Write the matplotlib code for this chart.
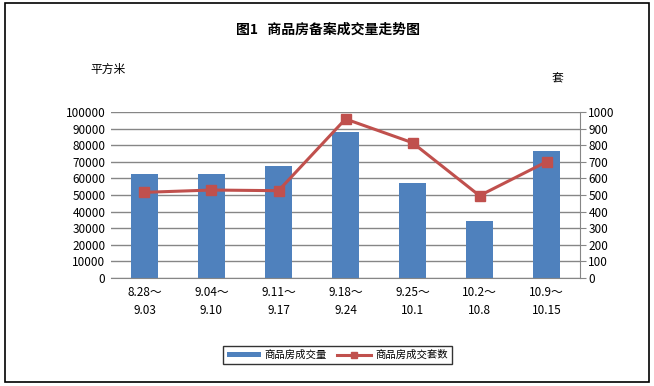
import matplotlib.pyplot as plt
import numpy as np
from matplotlib.patches import Rectangle

plt.rcParams['font.family'] = ['Noto Sans CJK SC', 'DejaVu Sans']

# data
weeks = ["8.28～\n9.03", "9.04～\n9.10", "9.11～\n9.17", "9.18～\n9.24",
         "9.25～\n10.1", "10.2～\n10.8", "10.9～\n10.15"]
area = [62600, 62600, 67500, 88000, 57200, 34300, 76500]   # 平方米
units = [516, 530, 526, 958, 815, 496, 700]                # 套

bar_color = "#4F81BD"
line_color = "#C0504D"
grid_color = "#868686"

fig = plt.figure(figsize=(6.54, 3.86), dpi=100)
ax = fig.add_axes([0.1697, 0.2798, 0.7172, 0.43])
x = np.arange(len(weeks))

ax.set_axisbelow(True)
ax.grid(axis="y", color=grid_color, linewidth=1)
bars = ax.bar(x, area, width=0.4, color=bar_color, label="商品房成交量", zorder=2)
ax.set_ylim(0, 100000)
ax.set_yticks(np.arange(0, 100001, 10000))
ax.set_xlim(-0.5, len(weeks) - 0.5)
ax.set_xticks(x)
ax.set_xticklabels(weeks, fontsize=8.5, linespacing=1.5)
ax.tick_params(axis="x", length=0, pad=6)
ax.tick_params(axis="y", length=0, labelsize=8.5, pad=4)
for s in ["top", "left", "right"]:
    ax.spines[s].set_visible(False)
ax.spines["bottom"].set_color(grid_color)

ax2 = ax.twinx()
line, = ax2.plot(x, units, color=line_color, linewidth=2.2, marker="s",
                 markersize=7, label="商品房成交套数", zorder=3)
ax2.set_ylim(0, 1000)
ax2.set_yticks(np.arange(0, 1001, 100))
ax2.tick_params(axis="y", length=4, color=grid_color, labelsize=8.5, pad=2)
for s in ["top", "left", "bottom"]:
    ax2.spines[s].set_visible(False)
ax2.spines["right"].set_color(grid_color)

fig.text(0.502, 0.922, "图1   商品房备案成交量走势图", ha="center", va="center",
         fontsize=10, fontweight="bold")
fig.text(0.165, 0.82, "平方米", ha="center", va="center", fontsize=8.5)
fig.text(0.853, 0.795, "套", ha="center", va="center", fontsize=8.5)

leg = fig.legend(handles=[bars, line], loc="center", bbox_to_anchor=(0.516, 0.080),
                 ncol=2, fontsize=7.5, frameon=True, fancybox=False,
                 edgecolor="black", handlelength=3.2, handleheight=0.5,
                 columnspacing=1.0, borderpad=0.4, handletextpad=0.4,
                 markerscale=0.7)
leg.get_frame().set_linewidth(1)

fig.patches.append(Rectangle((5 / 654, 1 - 382 / 386), 644 / 654, 379 / 386,
                             transform=fig.transFigure, fill=False,
                             edgecolor="black", linewidth=1.2))

fig.savefig("out.png", dpi=100)
